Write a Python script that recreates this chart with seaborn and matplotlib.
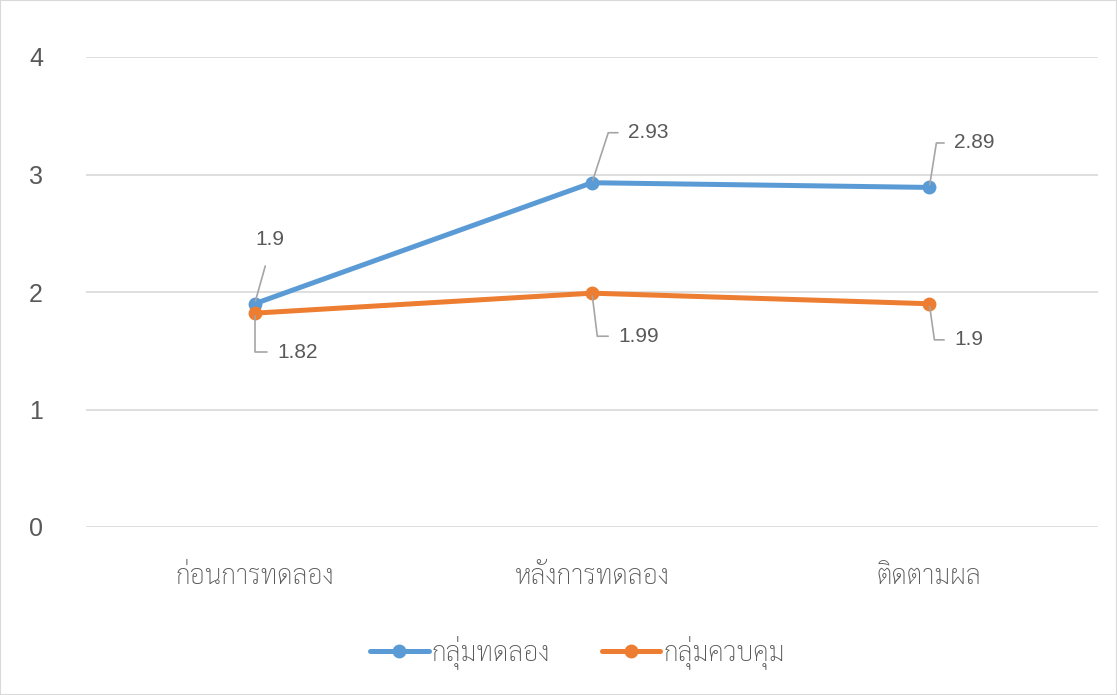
import pandas as pd
import matplotlib
matplotlib.use('Agg')
import matplotlib.pyplot as plt
import seaborn as sns

# Datos
fases = ['ก่อนการทดลอง', 'หลังการทดลอง', 'ติดตามผล']
grupo_exp = [1.9, 2.93, 2.89]
grupo_ctrl = [1.82, 1.99, 1.9]
series = ['กลุ่มทดลอง', 'กลุ่มควบคุม']
yticks = [0, 1, 2, 3, 4]

colores = ['#5B9BD5', '#ED7D31']
gris_txt = '#595959'
gris_lin = '#A5A5A5'
fuente_thai = ['Sarabun', 'DejaVu Sans']

sns.set_theme(style='white')
plt.rcParams['font.family'] = ['Liberation Sans', 'Sarabun', 'DejaVu Sans']

df = pd.DataFrame({
    'pos': list(range(len(fases))) * 2,
    'valor': grupo_exp + grupo_ctrl,
    'serie': [series[0]] * len(fases) + [series[1]] * len(fases),
})

fig = plt.figure(figsize=(11.17, 6.95), dpi=100)
ax = fig.add_axes([86 / 1117, 1 - 527 / 695, 1012 / 1117, 470 / 695])

sns.lineplot(data=df, x='pos', y='valor', hue='serie', palette=colores,
             marker='o', markersize=10, markeredgewidth=0, linewidth=3.6,
             ax=ax, legend=False)

ax.set_xlim(-0.5, len(fases) - 0.5)
ax.set_ylim(0, 4)
ax.set_yticks(yticks)
ax.set_xticks(range(len(fases)))
ax.set_xticklabels(fases, family=fuente_thai, fontweight='light')
ax.set_xlabel('')
ax.set_ylabel('')
ax.grid(axis='y', color='#D9D9D9', linewidth=1.2)
ax.grid(axis='x', visible=False)
ax.set_axisbelow(True)
for s in ax.spines.values():
    s.set_visible(False)
ax.tick_params(axis='y', length=0, pad=31, labelsize=18, labelcolor=gris_txt)
ax.tick_params(axis='x', length=0, pad=26, labelsize=19, labelcolor=gris_txt)
for t in ax.get_yticklabels():
    t.set_horizontalalignment('right')

# Etiquetas de datos con lineas guia (offset en puntos, angulo de la guia)
etiquetas = [
    (0, grupo_exp[0], (11, 46), None),
    (1, grupo_exp[1], (26, 36), 72),
    (2, grupo_exp[2], (18, 32), 81),
    (0, grupo_ctrl[0], (16, -28), 90),
    (1, grupo_ctrl[1], (19, -31), -83),
    (2, grupo_ctrl[2], (18, -26), -82),
]
for x, y, off, ang in etiquetas:
    txt = f'{y:g}'
    if ang is None:
        ax.annotate(txt, xy=(x, y), xytext=off, textcoords='offset points',
                    ha='center', va='center', fontsize=15, color=gris_txt,
                    arrowprops=dict(arrowstyle='-', color=gris_lin, lw=1.2,
                                    shrinkA=10, shrinkB=2, relpos=(0.5, 0)))
    else:
        ax.annotate(txt, xy=(x, y), xytext=off, textcoords='offset points',
                    ha='left', va='center', fontsize=15, color=gris_txt,
                    arrowprops=dict(arrowstyle='-', color=gris_lin, lw=1.2,
                                    shrinkA=5, shrinkB=2, relpos=(0, 0.5),
                                    connectionstyle=f'angle,angleA=0,angleB={ang},rad=0'))

# Leyenda inferior
handles = [plt.Line2D([], [], color=c, marker='o', markersize=10, markeredgewidth=0,
                      linewidth=3.6) for c in colores]
fig.legend(handles, series, loc='center', bbox_to_anchor=(0.517, 0.062), ncol=2,
           frameon=False, prop={'family': fuente_thai, 'size': 19, 'weight': 'light'},
           labelcolor=gris_txt, handlelength=2.2, handletextpad=0.1, columnspacing=2.0)

# Borde de la figura
fig.patches.append(plt.Rectangle((0, 0), 1, 1, transform=fig.transFigure,
                                 fill=False, edgecolor='#D9D9D9', linewidth=1.5))

plt.savefig('out.png', dpi=100)
plt.close()
